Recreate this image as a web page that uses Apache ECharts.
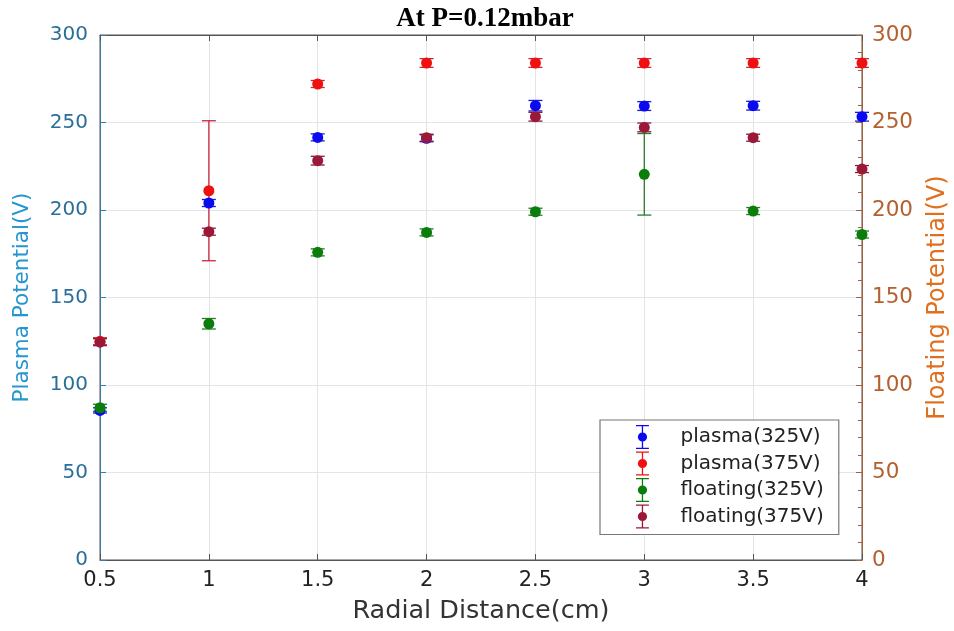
<!DOCTYPE html>
<html><head><meta charset="utf-8">
<script src="https://cdn.jsdelivr.net/npm/echarts@6/dist/echarts.min.js"></script>
<style>html,body{margin:0;padding:0;background:#fff;overflow:hidden}#c{width:954px;height:631px}</style>
</head><body><div id="c"></div>
<script>
const distances = [0.5, 1, 1.5, 2, 2.5, 3, 3.5, 4];
const plasma325 = [85.5, 204, 241.5, 241, 259.6, 259.4, 259.6, 253.3];
const plasma325Err = [1.5, 2, 2, 2, 3, 2.5, 2.5, 2.5];
const plasma375 = [125, 211, 272, 284, 284, 284, 284, 284];
const plasma375Err = [2, 40, 2, 2.5, 2.5, 2.5, 2.5, 2.5];
const floating325 = [87, 135, 175.8, 187.2, 199, 220.4, 199.4, 186];
const floating325Err = [2, 3, 2, 2, 2, 23.3, 2, 2];
const floating375 = [124.5, 187.6, 228.2, 241.3, 253.3, 247.2, 241.3, 223.4];
const floating375Err = [2, 2, 2.5, 2, 2.5, 2.5, 2, 2];
const yTicks = [0, 50, 100, 150, 200, 250, 300];

const groups = [
  {name: 'plasma(325V)', vals: plasma325, err: plasma325Err, color: '#0a0af0', ecolor: '#1a1ad0', yi: 0},
  {name: 'plasma(375V)', vals: plasma375, err: plasma375Err, color: '#f01010', ecolor: '#c8283a', yi: 0},
  {name: 'floating(325V)', vals: floating325, err: floating325Err, color: '#0a7d0a', ecolor: '#2a7a2a', yi: 1},
  {name: 'floating(375V)', vals: floating375, err: floating375Err, color: '#9a1838', ecolor: '#8a1a3a', yi: 1}
];

const iconPath = 'path://M0,0H14V1.4H0Z M6.3,1.4H7.7V8H6.3Z M6.3,18H7.7V24.6H6.3Z M0,24.6H14V26H0Z M2,13A5,5 0 1,1 12,13A5,5 0 1,1 2,13Z';

const series = [];
groups.forEach(g => {
  series.push({
    name: g.name, type: 'custom', yAxisIndex: g.yi, z: 2,
    data: distances.map((x, i) => [x, g.vals[i], g.err[i]]),
    renderItem: function (params, api) {
      const x = api.value(0), y = api.value(1), e = api.value(2);
      const t = api.coord([x, y + e]), b = api.coord([x, y - e]);
      const hw = 7;
      const st = {stroke: g.ecolor, lineWidth: 1.3};
      return {type: 'group', children: [
        {type: 'line', shape: {x1: t[0], y1: t[1], x2: b[0], y2: b[1]}, style: st},
        {type: 'line', shape: {x1: t[0] - hw, y1: t[1], x2: t[0] + hw, y2: t[1]}, style: st},
        {type: 'line', shape: {x1: b[0] - hw, y1: b[1], x2: b[0] + hw, y2: b[1]}, style: st}
      ]};
    },
    itemStyle: {color: g.color},
    silent: true, animation: false
  });
  series.push({
    name: g.name, type: 'scatter', yAxisIndex: g.yi, z: 3,
    symbol: 'circle', symbolSize: 11,
    data: distances.map((x, i) => [x, g.vals[i]]),
    itemStyle: {color: g.color, opacity: 1},
    animation: false
  });
});

const chart = echarts.init(document.getElementById('c'), null, {renderer: 'canvas', width: 954, height: 631});
chart.setOption({
  backgroundColor: '#fff',
  animation: false,
  title: {
    text: 'At P=0.12mbar', left: 480, top: 1, textAlign: 'center',
    textStyle: {fontFamily: 'Liberation Serif', fontWeight: 'bold', fontSize: 27, color: '#000'}
  },
  grid: {left: 100, right: 92, top: 35, bottom: 71, show: true, borderColor: '#555', borderWidth: 1,
    containLabel: false, outerBoundsMode: 'none'},
  legend: {
    orient: 'vertical', left: 600, top: 420,
    padding: [5, 15, 6, 36], itemGap: 2.5, itemWidth: 14, itemHeight: 24,
    borderColor: '#777', borderWidth: 1.2, backgroundColor: '#fff',
    data: groups.map(g => ({name: g.name, icon: iconPath, itemStyle: {color: g.color}})),
    formatter: n => '{a|' + n + '}',
    textStyle: {fontFamily: 'DejaVu Sans', fontSize: 20, color: '#222',
      rich: {a: {fontFamily: 'DejaVu Sans', fontSize: 20, color: '#222', padding: [0, 0, 0, 26]}}},
    selectedMode: false
  },
  xAxis: [{
    type: 'value', min: 0.5, max: 4, interval: 0.5, position: 'bottom',
    name: 'Radial Distance(cm)', nameLocation: 'middle', nameGap: 38,
    nameTextStyle: {fontFamily: 'DejaVu Sans', fontSize: 25.5, color: '#333'},
    axisLine: {show: true, onZero: false, lineStyle: {color: '#555', width: 1}},
    axisTick: {show: true, inside: true, length: 6, lineStyle: {color: '#555'}},
    axisLabel: {fontFamily: 'DejaVu Sans', fontSize: 21, color: '#222', margin: 10},
    splitLine: {show: true, lineStyle: {color: '#e2e4e6', width: 1}}
  }, {
    type: 'value', min: 0.5, max: 4, interval: 0.5, position: 'top',
    axisLine: {show: true, onZero: false, lineStyle: {color: '#555', width: 1}},
    axisTick: {show: true, inside: true, length: 6, lineStyle: {color: '#555'}},
    axisLabel: {show: false}, splitLine: {show: false}
  }],
  yAxis: [{
    type: 'value', min: yTicks[0], max: yTicks[yTicks.length - 1], interval: 50, position: 'left',
    name: 'Plasma Potential(V)', nameLocation: 'middle', nameGap: 67, nameRotate: 90,
    nameTextStyle: {fontFamily: 'DejaVu Sans', fontSize: 21.5, color: '#2596d0'},
    axisLine: {show: true, lineStyle: {color: '#3a7ca8', width: 1}},
    axisTick: {show: true, inside: true, length: 6, lineStyle: {color: '#3a7ca8'}},
    axisLabel: {fontFamily: 'DejaVu Sans', fontSize: 20, color: '#2a6f9a', margin: 12},
    splitLine: {show: true, lineStyle: {color: '#dfe5ea', width: 1}}
  }, {
    type: 'value', min: yTicks[0], max: yTicks[yTicks.length - 1], interval: 50, position: 'right',
    name: 'Floating Potential(V)', nameLocation: 'middle', nameGap: 64, nameRotate: 90,
    nameTextStyle: {fontFamily: 'DejaVu Sans', fontSize: 24, color: '#e0701f'},
    axisLine: {show: true, lineStyle: {color: '#a0603a', width: 1}},
    axisTick: {show: true, inside: true, length: 6, lineStyle: {color: '#a0603a'}},
    axisLabel: {fontFamily: 'DejaVu Sans', fontSize: 21.5, color: '#b5602e', margin: 10},
    splitLine: {show: false}
  }, {
    type: 'value', min: 0, max: 300, interval: 10, position: 'right', offset: 0,
    axisLine: {show: false},
    axisTick: {show: true, inside: true, length: 4, lineStyle: {color: '#a0603a'}},
    axisLabel: {show: false}, splitLine: {show: false}
  }],
  series: series
});
</script></body></html>
